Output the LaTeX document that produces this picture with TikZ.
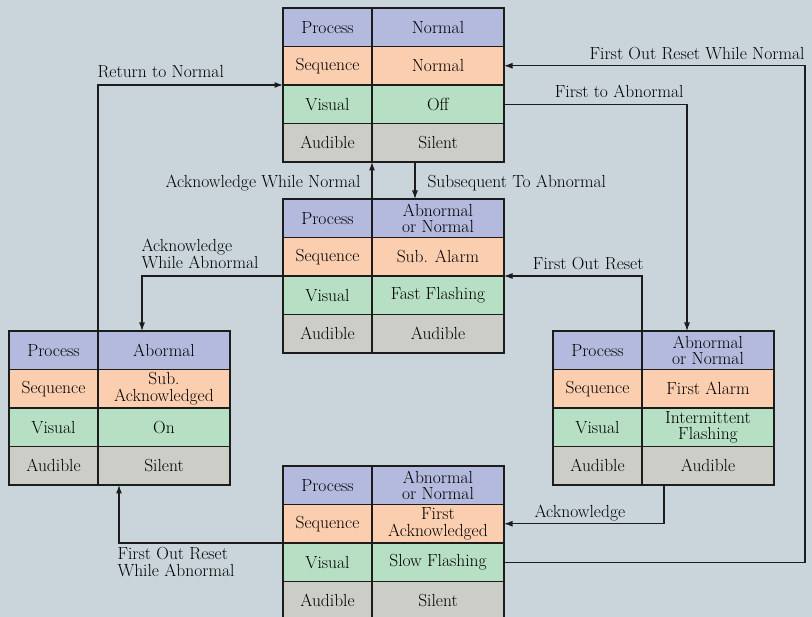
\documentclass[tikz,border=0pt]{standalone}
\usepackage{tikz}
\usetikzlibrary{positioning, arrows.meta}

\definecolor{bgcol}{HTML}{C9D5DB}
\definecolor{procfill}{HTML}{B3BADD}
\definecolor{seqfill}{HTML}{FCCEB0}
\definecolor{visfill}{HTML}{B6DFC3}
\definecolor{audfill}{HTML}{CBCDC6}
\definecolor{linecol}{HTML}{1C1C1C}

\tikzset{
    cell/.style={draw=linecol, line width=1.2pt, inner sep=0pt, outer sep=0pt,
        minimum height=38.5pt, align=center, font=\fontsize{17.5}{16.5}\selectfont},
    key/.style={cell, minimum width=89pt},
    val/.style={cell, minimum width=132pt},
    lab/.style={inner sep=0pt, align=left, font=\fontsize{17.5}{16.5}\selectfont},
    wire/.style={draw=linecol, line width=1.1pt}
}

% one state: name, top left corner, process, sequence, visual, audible
\newcommand{\statetable}[6]{%
    \node[key, fill=procfill, anchor=north west] (#1-p) at (#2) {Process};
    \node[val, fill=procfill, right=0pt of #1-p] (#1-pv) {#3};
    \node[key, fill=seqfill, below=0pt of #1-p] (#1-s) {Sequence};
    \node[val, fill=seqfill, right=0pt of #1-s] (#1-sv) {#4};
    \node[key, fill=visfill, below=0pt of #1-s] (#1-v) {Visual};
    \node[val, fill=visfill, right=0pt of #1-v] (#1-vv) {#5};
    \node[key, fill=audfill, below=0pt of #1-v] (#1-a) {Audible};
    \node[val, fill=audfill, right=0pt of #1-a] (#1-av) {#6};
}

\begin{document}
\begin{tikzpicture}[x=1pt, y=-1pt, >={Latex[length=8.5pt,width=6pt]}]
    \fill[bgcol] (0,0) rectangle (812,617);
    \useasboundingbox (0,0) rectangle (812,617);

    \statetable{top}{283,8}{Normal}{Normal}{Off}{Silent}
    \statetable{sub}{283,199}{Abnormal\\or Normal}{Sub. Alarm}{Fast Flashing}{Audible}
    \statetable{suback}{9,331}{Abormal}{Sub.\\Acknowledged}{On}{Silent}
    \statetable{first}{553,331}{Abnormal\\or Normal}{First Alarm}{Intermittent\\Flashing}{Audible}
    \statetable{firstack}{283,466}{Abnormal\\or Normal}{First\\Acknowledged}{Slow Flashing}{Silent}

    \coordinate (rail) at (805,0);

    % transitions
    \draw[wire, ->] (suback-p.north east) |- node[lab, pos=0.5, anchor=base west, xshift=-1pt, yshift=7pt] {Return to Normal} (top-v.north west);
    \draw[wire, ->] (sub-p.north east) -- node[lab, pos=0.5, anchor=base east, xshift=-11pt, yshift=-7.5pt] {Acknowledge While Normal} (top-a.south east);
    \draw[wire, ->] ([xshift=43pt]top-av.south west) -- node[lab, pos=0.5, anchor=base west, xshift=12pt, yshift=-7.5pt] {Subsequent To Abnormal} ([xshift=43pt]sub-pv.north west);
    \draw[wire, ->] (sub-s.south west) -| node[lab, pos=0.5, anchor=south west, xshift=-1pt, yshift=6.7pt] {Acknowledge\\While Abnormal} ([xshift=44pt]suback-pv.north west);
    \draw[wire, ->] (firstack-vv.east) -- (firstack-vv.east -| rail) |- node[lab, pos=0.5, anchor=base east, yshift=6.5pt] {First Out Reset While Normal} (top-sv.east);
    \draw[wire, ->] (top-vv.east) -| node[lab, pos=0.5, anchor=base east, xshift=-3pt, yshift=6.5pt] {First to Abnormal} ([xshift=45pt]first-pv.north west);
    \draw[wire, ->] (first-p.north east) |- node[lab, pos=0.5, anchor=base east, xshift=2pt, yshift=6.5pt] {First Out Reset} (sub-vv.north east);
    \draw[wire, ->] ([xshift=22pt]first-av.south west) |- node[lab, pos=1, anchor=base west, xshift=30pt, yshift=6.5pt] {Acknowledge} (firstack-sv.east);
    \draw[wire, ->] (firstack-s.south west) -| node[lab, pos=0.5, anchor=north west, xshift=-2pt, yshift=-4pt] {First Out Reset\\While Abnormal} ([xshift=21pt]suback-av.south west);
\end{tikzpicture}
\end{document}
